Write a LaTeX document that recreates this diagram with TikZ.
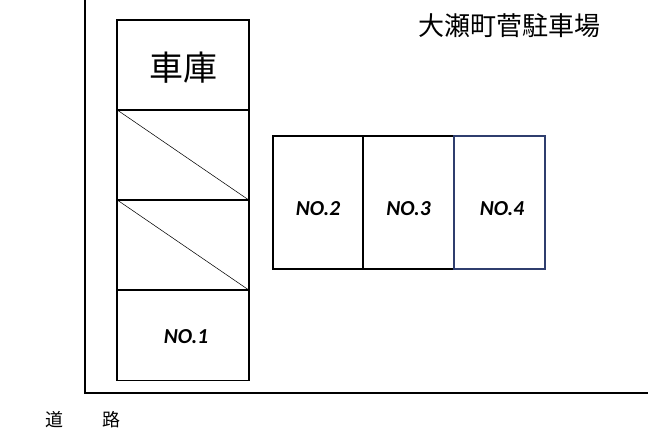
\documentclass[tikz,border=0pt]{standalone}
\usepackage{fontspec}
\setmainfont{Carlito}
\newfontfamily\cjk{Noto Sans CJK JP}
\begin{document}
\begin{tikzpicture}[x=0.75pt,y=-0.75pt,
  box/.style={draw=black,line width=0.8pt},
  lbl/.style={font=\bfseries\itshape\fontsize{16}{18}\selectfont}]
\useasboundingbox (0,0) rectangle (648,441);
\draw[line width=1pt] (85,0) -- (85,393) -- (648,393);
\node[box,minimum width=99pt,minimum height=67.5pt,inner sep=0] (garage) at (183,65) {};
\node[font=\cjk\fontsize{25.5}{28}\selectfont] at (183,68) {車庫};
\node[box,minimum width=99pt,minimum height=67.5pt,inner sep=0] (s1) at (183,155) {};
\node[box,minimum width=99pt,minimum height=67.5pt,inner sep=0] (s2) at (183,245) {};
\node[box,minimum width=99pt,minimum height=68pt,inner sep=0] (n1) at (183,335.5) {};
\draw[line width=0.4pt] (s1.north west) -- (s1.south east);
\draw[line width=0.4pt] (s2.north west) -- (s2.south east);
\node[lbl] at (186,337) {NO.1};
\node[box,minimum width=67.5pt,minimum height=99.75pt,inner sep=0] (n2) at (318,202.5) {};
\node[box,minimum width=68.25pt,minimum height=99.75pt,inner sep=0] (n3) at (408.5,202.5) {};
\node[draw={rgb,255:red,47;green,62;blue,110},line width=0.8pt,minimum width=68.25pt,minimum height=99.75pt,inner sep=0] (n4) at (499.5,202.5) {};
\node[lbl] at (318,209) {NO.2};
\node[lbl] at (408.5,209) {NO.3};
\node[lbl] at (502,209) {NO.4};
\node[font=\cjk\fontsize{19.5}{22}\selectfont] (title) at (509,26) {大瀬町菅駐車場};
\node[font=\cjk\fontsize{13.5}{15}\selectfont] (road) at (83,420) {道\hspace{2.2em}路};
\end{tikzpicture}
\end{document}
